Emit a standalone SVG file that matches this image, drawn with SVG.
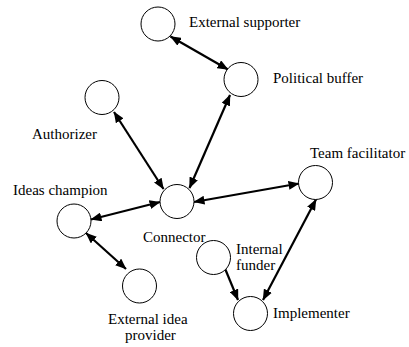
<svg xmlns="http://www.w3.org/2000/svg" width="409" height="347" viewBox="0 0 409 347">
<style>
.node circle{fill:#fff;stroke:#000;stroke-width:1}
.edge{stroke:#000;stroke-width:2.2;fill:none}
.both{marker-start:url(#ah);marker-end:url(#ah)}
.one{marker-end:url(#ah)}
</style>
<defs>
<marker id="ah" markerUnits="userSpaceOnUse" markerWidth="11" markerHeight="9" viewBox="0 0 11 9" refX="10.5" refY="4.5" orient="auto-start-reverse">
<path d="M0,0 L11,4.5 L0,9 Z" fill="#000"/>
</marker>
</defs>
<rect width="409" height="347" fill="#fff"/>
<g id="connectors">
<line class="edge both" x1="170.5" y1="36.5" x2="228" y2="69.5"/>
<line class="edge both" x1="230" y1="95" x2="189.5" y2="188"/>
<line class="edge both" x1="114" y1="112" x2="163.5" y2="189"/>
<line class="edge both" x1="91" y1="219.5" x2="160" y2="202"/>
<line class="edge both" x1="194" y1="202" x2="299" y2="183.5"/>
<line class="edge both" x1="86" y1="233" x2="126" y2="269"/>
<line class="edge both" x1="316" y1="199.5" x2="263" y2="300"/>
<line class="edge one" x1="225" y1="268.5" x2="238" y2="300"/>
</g>
<g font-family="'Liberation Serif', Tinos, 'Times New Roman', 'DejaVu Serif', serif" font-size="15" fill="#000">
<g id="external-supporter" class="node"><circle cx="158" cy="24" r="17"/><text x="189" y="27">External supporter</text></g>
<g id="political-buffer" class="node"><circle cx="241" cy="79.5" r="17"/><text x="273" y="83">Political buffer</text></g>
<g id="authorizer" class="node"><circle cx="102" cy="97.5" r="17"/><text x="32" y="139">Authorizer</text></g>
<g id="team-facilitator" class="node"><circle cx="315.5" cy="182.5" r="17"/><text x="310" y="158">Team facilitator</text></g>
<g id="connector" class="node"><circle cx="177" cy="201.5" r="17"/><text x="143" y="242">Connector</text></g>
<g id="ideas-champion" class="node"><circle cx="74" cy="221" r="17"/><text x="13" y="195">Ideas champion</text></g>
<g id="external-idea-provider" class="node"><circle cx="139.5" cy="286" r="17"/><text x="108" y="323.5">External idea</text><text x="125" y="340">provider</text></g>
<g id="internal-funder" class="node"><circle cx="213.5" cy="257.5" r="17"/><text x="236" y="253.5">Internal</text><text x="236" y="270">funder</text></g>
<g id="implementer" class="node"><circle cx="250.5" cy="313.5" r="17"/><text x="273" y="318">Implementer</text></g>
</g>
</svg>
